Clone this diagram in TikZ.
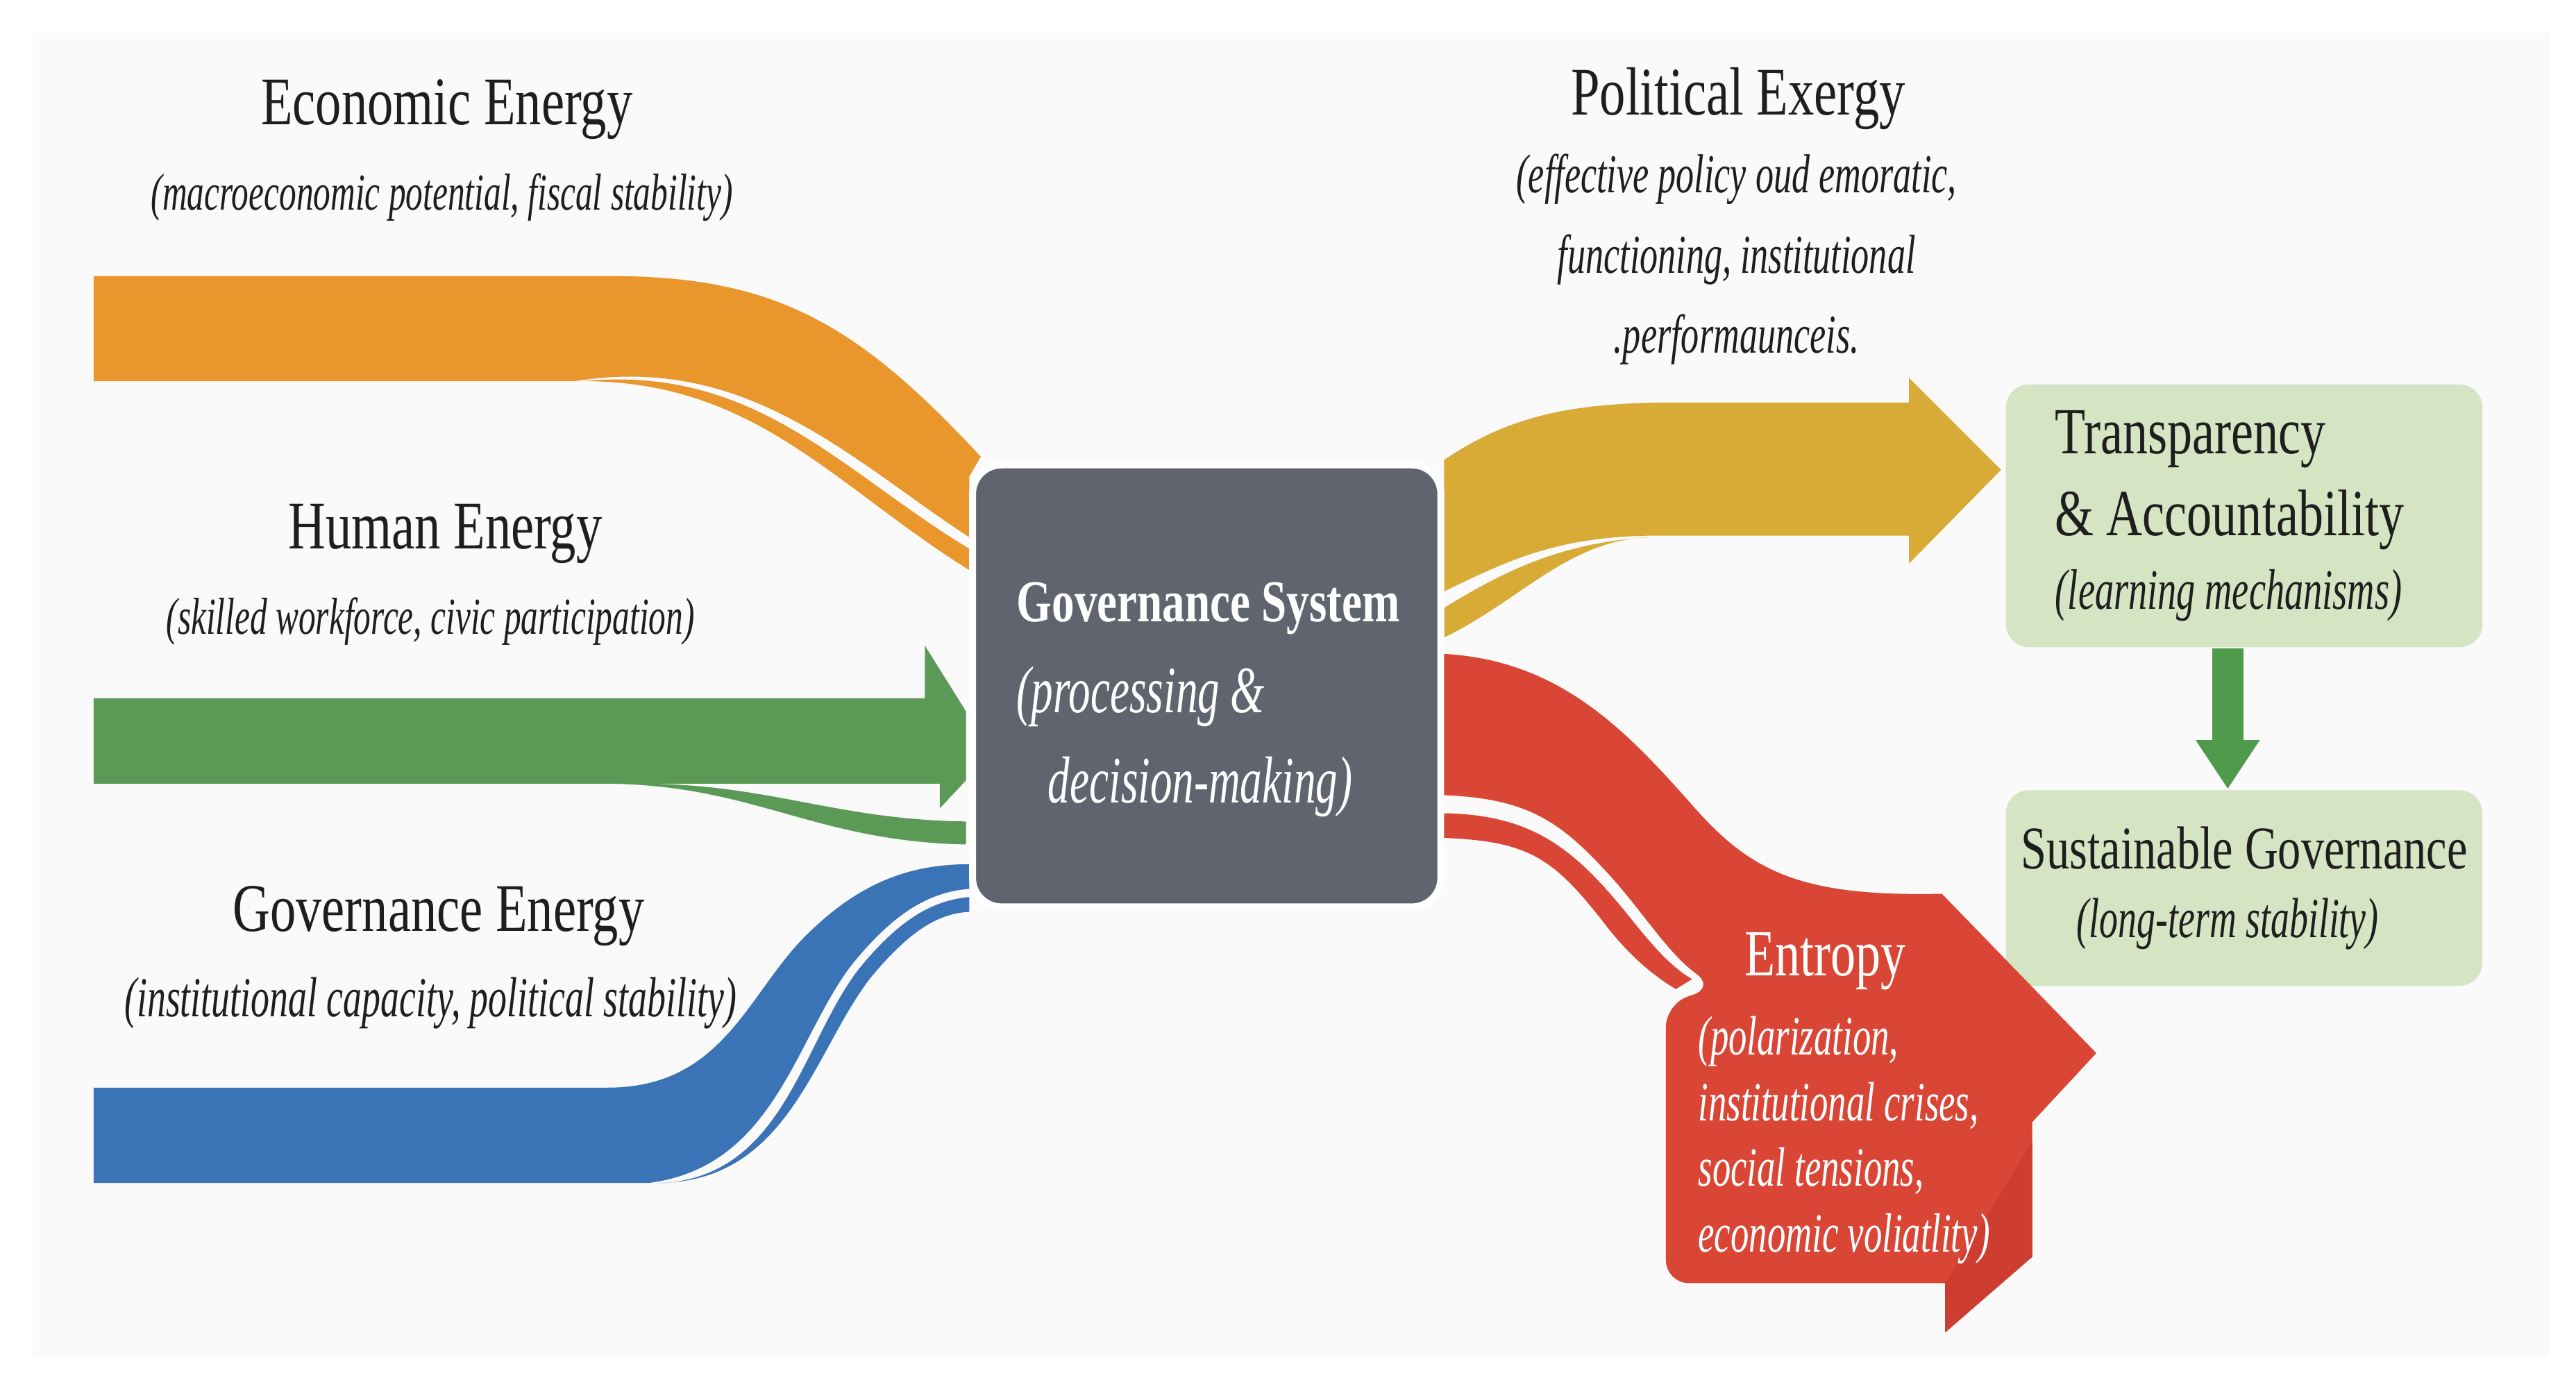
\documentclass[tikz,border=0pt]{standalone}
\usepackage{fontspec}
\setmainfont{Liberation Serif}[FakeStretch=0.76]
\newfontfamily\notefont{Liberation Serif}[FakeStretch=0.66]
\usepackage{xcolor}
\usepackage{tikz}
\usetikzlibrary{positioning,calc,arrows.meta}
\definecolor{panelbg}{HTML}{fafafa}
\definecolor{econflow}{HTML}{e9972d}
\definecolor{humanflow}{HTML}{5b9a56}
\definecolor{govflow}{HTML}{3a74b6}
\definecolor{exergyflow}{HTML}{d8aa36}
\definecolor{entropyflow}{HTML}{da4636}
\definecolor{entropyfold}{HTML}{cd3e31}
\definecolor{sysgray}{HTML}{60646f}
\definecolor{outgreen}{HTML}{d5e4c3}
\definecolor{arrowgreen}{HTML}{4f9a4b}
\definecolor{ink}{HTML}{1e1e1e}

\begin{document}
\begin{tikzpicture}[x=1cm, y=-1cm,
  flowtitle/.style={inner sep=0pt, text=ink, font=\fontsize{11.8}{14}\selectfont},
  flownote/.style={inner sep=0pt, text=ink, font=\notefont\itshape\fontsize{9}{11}\selectfont},
  sysbox/.style={fill=sysgray, draw=white, line width=1.2pt, rounded corners=5pt, minimum width=2.85cm, minimum height=2.69cm},
  systext/.style={inner sep=0pt, text=white, align=left, font=\notefont\itshape\fontsize{11.5}{15.7}\selectfont},
  outbox/.style={fill=outgreen, rounded corners=4pt, minimum width=2.9cm, inner sep=0pt, text=ink},
  downarrow/.style={draw=arrowgreen, line width=5.4pt, -{Triangle[length=8.5pt, width=10.5pt]}},
  entropytitle/.style={inner sep=0pt, text=white, font=\fontsize{11.4}{14}\selectfont},
  entropynote/.style={inner sep=0pt, text=white, align=left, font=\notefont\itshape\fontsize{9.6}{11.4}\selectfont}]

  \useasboundingbox (0,0) rectangle (15.68,8.44);
  \fill[white] (0,0) rectangle (15.68,8.44);
  \fill[panelbg] (0.20,0.20) rectangle (15.52,8.26);

  % Economic energy flow
  \fill[econflow] (0.57,1.68) -- (3.70,1.68) .. controls (4.70,1.68) and (5.20,1.95) .. (5.97,2.78)
    -- (5.90,2.90) -- (5.90,3.27) .. controls (5.18,2.80) and (4.55,2.15) .. (3.50,2.32) -- (0.57,2.32) -- cycle;
  \fill[econflow] (3.55,2.32) .. controls (4.60,2.22) and (5.12,2.87) .. (5.90,3.34)
    -- (5.90,3.47) .. controls (5.08,2.96) and (4.60,2.32) .. (3.55,2.32) -- cycle;

  % Human energy flow
  \fill[humanflow] (0.57,4.25) -- (5.63,4.25) -- (5.63,3.93) -- (5.88,4.33) -- (5.88,4.75)
    -- (5.72,4.92) -- (5.72,4.77) -- (0.57,4.77) -- cycle;
  \fill[humanflow] (3.95,4.77) .. controls (4.70,4.78) and (5.10,4.99) .. (5.88,5.00)
    -- (5.88,5.14) .. controls (4.95,5.12) and (4.60,4.78) .. (3.70,4.77) -- cycle;

  % Governance energy flow
  \fill[govflow] (0.57,6.62) -- (3.70,6.62) .. controls (4.40,6.62) and (4.55,6.05) .. (4.90,5.70)
    .. controls (5.20,5.40) and (5.50,5.26) .. (5.90,5.26) -- (5.90,5.41)
    .. controls (5.65,5.43) and (5.44,5.56) .. (5.19,5.865) .. controls (4.84,6.315) and (4.72,7.10) .. (3.95,7.20)
    -- (0.57,7.20) -- cycle;
  \fill[govflow] (4.05,7.20) .. controls (4.78,7.14) and (4.88,6.345) .. (5.23,5.895)
    .. controls (5.48,5.59) and (5.68,5.48) .. (5.90,5.46) -- (5.90,5.55)
    .. controls (5.72,5.56) and (5.55,5.65) .. (5.30,5.95) .. controls (4.95,6.40) and (4.80,7.20) .. (4.00,7.20) -- cycle;

  % Political exergy flow
  \fill[exergyflow] (8.79,2.80) .. controls (9.20,2.52) and (9.60,2.45) .. (10.20,2.45) -- (11.62,2.45)
    -- (11.62,2.30) -- (12.18,2.86) -- (11.62,3.43) -- (11.62,3.26) -- (10.10,3.26)
    .. controls (9.50,3.26) and (9.20,3.40) .. (8.79,3.60) -- cycle;
  \fill[exergyflow] (10.05,3.27) .. controls (9.50,3.30) and (9.15,3.48) .. (8.79,3.70)
    -- (8.79,3.88) .. controls (9.25,3.66) and (9.55,3.28) .. (10.05,3.27) -- cycle;

  % Governance system
  \node[sysbox] (sys) at (7.345,4.175) {};
  \node[systext] (systxt) at (7.355,4.26) {{\rmfamily\upshape\bfseries\fontsize{10.3}{15.7}\selectfont Governance System}\\
    (processing \&\\ \hspace*{0.19cm}decision-making)};

  % Outcome boxes
  \node[outbox, minimum height=1.60cm, text width=2.30cm, align=flush left, font=\fontsize{11.4}{14.2}\selectfont] (transp) at (13.66,3.14)
    {Transparency\\\& Accountability\\[-1.4pt]{\notefont\itshape\fontsize{9.9}{12}\selectfont (learning mechanisms)}};
  \node[outbox, minimum height=1.19cm, align=center, font=\fontsize{10.5}{11.9}\selectfont] (sustain) at (13.66,5.405)
    {Sustainable Governance\\ {\notefont\itshape\fontsize{9.8}{12}\selectfont (long-term stability)}\hspace*{0.2cm}};
  \draw[downarrow] ([xshift=-1mm]transp.south) -- ([xshift=-1mm]sustain.north);

  % Entropy flow
  \fill[entropyflow] (8.79,3.98) .. controls (9.50,4.02) and (9.90,4.45) .. (10.30,4.90)
    .. controls (10.65,5.30) and (10.95,5.46) .. (11.82,5.44) -- (12.76,6.41) -- (12.37,6.83) -- (12.37,7.65)
    -- (11.84,8.11) -- (11.84,7.81) [rounded corners=4pt] -- (10.14,7.81) -- (10.14,6.11) -- (10.44,6.01)
    [sharp corners] .. controls (10.15,5.80) and (10.00,5.55) .. (9.80,5.33)
    .. controls (9.50,5.00) and (9.30,4.86) .. (8.79,4.84) -- cycle;
  \fill[entropyflow] (8.79,4.95) .. controls (9.35,4.96) and (9.60,5.18) .. (9.95,5.62)
    .. controls (10.08,5.78) and (10.18,5.89) .. (10.30,5.96) -- (10.20,6.02)
    .. controls (10.05,5.93) and (9.90,5.80) .. (9.75,5.60) .. controls (9.45,5.22) and (9.30,5.12) .. (8.79,5.10) -- cycle;
  \fill[entropyfold] (11.84,7.81) -- (12.37,6.95) -- (12.37,7.65) -- (11.84,8.11) -- cycle;

  % Labels
  \node[flowtitle, anchor=base] (econ) at (2.72,0.76) {Economic Energy};
  \node[flownote, anchor=base] (econnote) at (2.69,1.28) {(macroeconomic potential, fiscal stability)};
  \node[flowtitle, anchor=base] (human) at (2.71,3.34) {Human Energy};
  \node[flownote, anchor=base] (humannote) at (2.62,3.86) {(skilled workforce, civic participation)};
  \node[flowtitle, anchor=base] (gov) at (2.67,5.67) {Governance Energy};
  \node[flownote, anchor=base, font=\notefont\itshape\fontsize{9.8}{11}\selectfont] (govnote) at (2.62,6.19) {(institutional capacity, political stability)};
  \node[flowtitle, anchor=base] (exergy) at (10.58,0.70) {Political Exergy};
  \node[flownote, align=center, font=\notefont\itshape\fontsize{9.5}{13.9}\selectfont] (exergynote) at (10.57,1.58)
    {(effective policy oud emoratic,\\ functioning, institutional\\ .performaunceis.};
  \node[entropytitle, anchor=base] (entropy) at (11.11,5.94) {Entropy};
  \node[entropynote, anchor=west] (entropynote) at (10.33,6.94)
    {(polarization,\\ institutional crises,\\ social tensions,\\ economic voliatlity)};
\end{tikzpicture}
\end{document}
